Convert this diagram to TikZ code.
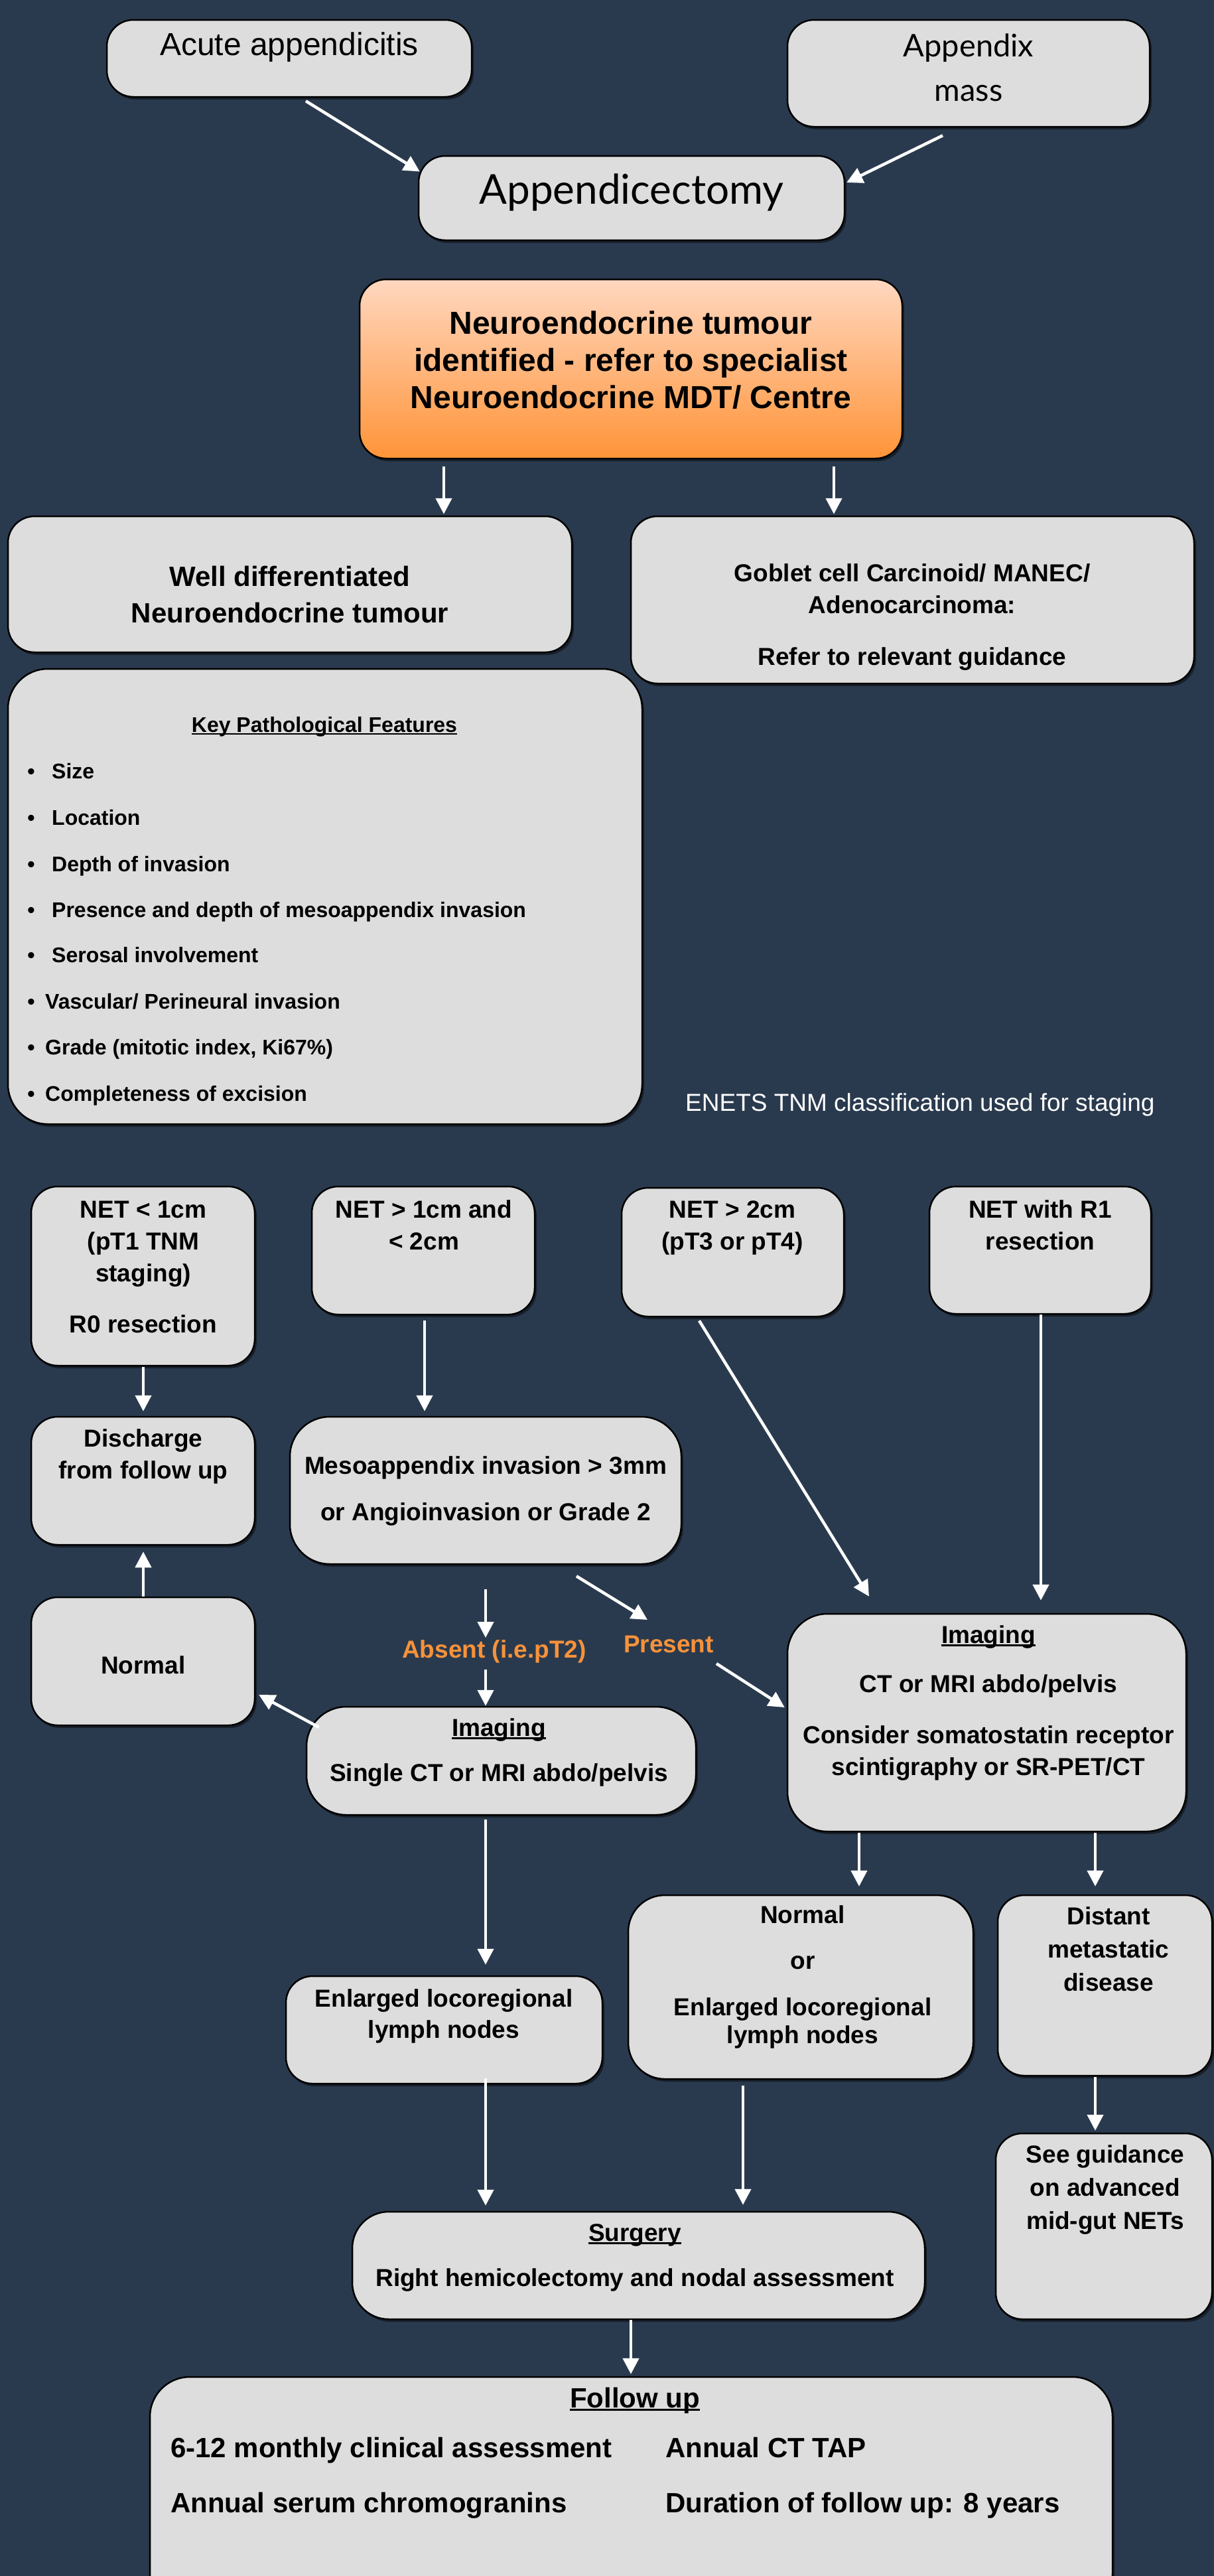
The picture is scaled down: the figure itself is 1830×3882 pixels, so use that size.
\documentclass[tikz,border=0pt]{standalone}
\usepackage{fontspec}
\setmainfont{Liberation Sans}
\newfontfamily\latofont{Lato}
\usetikzlibrary{arrows.meta,shadows}
\definecolor{bgc}{HTML}{2A3A4E}
\definecolor{boxc}{HTML}{DDDDDD}
\definecolor{orTop}{HTML}{FFD7C0}
\definecolor{orBot}{HTML}{FF9438}
\definecolor{lbl}{HTML}{F7923A}
\newsavebox\ulbox
\newcommand\ul[1]{\sbox\ulbox{#1}\rlap{\rule[-0.12em]{\wd\ulbox}{0.07em}}\usebox\ulbox}
\begin{document}
\begin{tikzpicture}[x=1pt,y=-1pt,
 box/.style={draw=black, line width=2.5pt, fill=boxc, rounded corners=#1, inner sep=0pt,
   drop shadow={shadow xshift=3pt, shadow yshift=-4pt, opacity=0.45, fill=black}},
 box/.default=40pt,
 arr/.style={draw=white, line width=4.5pt, -{Triangle[width=24pt,length=24pt]}},
 tx/.style={inner sep=0pt, align=center, text=black, anchor=north},
 tb/.style={inner sep=0pt, text=black, anchor=base},
 tbw/.style={inner sep=0pt, text=black, anchor=base west},
 kf/.style={font=\bfseries\fontsize{32}{40}\selectfont},
 lab/.style={inner sep=0pt, anchor=base, text=lbl, font=\bfseries\fontsize{37}{48}\selectfont}
]
\fill[bgc] (0,0) rectangle (1830,3882);
\useasboundingbox (0,0) rectangle (1830,3882);
\clip (0,0) rectangle (1830,3882);

% ---------- boxes ----------
\node[box, minimum width=550pt, minimum height=116pt] (acute) at (436,88) {};
\node[box, minimum width=546pt, minimum height=161pt] (mass) at (1460,110.5) {};
\node[box, minimum width=642pt, minimum height=127pt] (appy) at (952,298.5) {};
\node[box, draw=black, top color=orTop, bottom color=orBot, minimum width=818pt, minimum height=270pt] (orange) at (951,556) {};
\node[box, minimum width=850pt, minimum height=205pt] (wd) at (437,880.5) {};
\node[box, minimum width=849pt, minimum height=252pt] (goblet) at (1375.5,904) {};
\node[box=60pt, minimum width=956pt, minimum height=686pt] (key) at (490,1351) {};

\node[box, minimum width=337pt, minimum height=270pt] (net1) at (215.5,1923) {};
\node[box, minimum width=336pt, minimum height=193pt] (net2) at (638,1884.5) {};
\node[box, minimum width=335pt, minimum height=194pt] (net3) at (1104.5,1887) {};
\node[box, minimum width=334pt, minimum height=192pt] (net4) at (1568,1884) {};
\node[box, minimum width=337pt, minimum height=193pt] (discharge) at (215.5,2231.5) {};
\node[box=60pt, minimum width=590pt, minimum height=222pt] (meso) at (732,2246) {};
\node[box, minimum width=337pt, minimum height=193pt] (normalL) at (215.5,2503.5) {};
\node[box=60pt, minimum width=587pt, minimum height=163pt] (imgM) at (755.5,2653.5) {};
\node[box=60pt, minimum width=601pt, minimum height=328pt] (imgR) at (1487.5,2596) {};
\node[box=55pt, minimum width=520pt, minimum height=277pt] (normalOr) at (1207,2994.5) {};
\node[box, minimum width=323pt, minimum height=272pt] (distant) at (1665.5,2992) {};
\node[box, minimum width=477pt, minimum height=162pt] (enlargedL) at (669.5,3059) {};
\node[box, minimum width=326pt, minimum height=280pt] (guidance) at (1664,3355) {};
\node[box=55pt, minimum width=863pt, minimum height=162pt] (surgery) at (962.5,3414) {};
\node[box=60pt, minimum width=1451pt, minimum height=356pt] (followup) at (951.5,3760) {};

% ---------- texts ----------
\node[tb, font=\fontsize{48}{56}\selectfont] (acuteT) at (436,83) {Acute appendicitis};
\node[tx, font=\latofont\fontsize{47}{67}\selectfont] (massT) at (1460,38.1) {\strut Appendix\\mass};
\node[tb, font=\latofont\fontsize{62}{70}\selectfont] (appyT) at (952,307) {Appendicectomy};
\node[tx, font=\bfseries\fontsize{48}{56}\selectfont] (orangeT) at (951,463.8)
  {\strut Neuroendocrine tumour\\identified - refer to specialist\\Neuroendocrine MDT/ Centre};
\node[tx, font=\bfseries\fontsize{42}{55}\selectfont] (wdT) at (437,844.5)
  {\strut Well differentiated\\Neuroendocrine tumour};
\node[tx, font=\bfseries\fontsize{37}{48}\selectfont] (gobletT) at (1375,842.4)
  {\strut Goblet cell Carcinoid/ MANEC/\\Adenocarcinoma:\\[30pt]Refer to relevant guidance};

\node[tb, kf] (keyT) at (489,1103) {\ul{Key Pathological Features}};
\node[tb, kf] (b1) at (47,1173) {\textbullet};
\node[tb, kf] (b2) at (47,1243) {\textbullet};
\node[tb, kf] (b3) at (47,1313) {\textbullet};
\node[tb, kf] (b4) at (47,1382) {\textbullet};
\node[tb, kf] (b5) at (47,1450) {\textbullet};
\node[tb, kf] (b6) at (47,1520) {\textbullet};
\node[tb, kf] (b7) at (47,1589) {\textbullet};
\node[tb, kf] (b8) at (47,1659) {\textbullet};
\node[tbw, kf] (k1) at (78,1173) {Size};
\node[tbw, kf] (k2) at (78,1243) {Location};
\node[tbw, kf] (k3) at (78,1313) {Depth of invasion};
\node[tbw, kf] (k4) at (78,1382) {Presence and depth of mesoappendix invasion};
\node[tbw, kf] (k5) at (78,1450) {Serosal involvement};
\node[tbw, kf] (k6) at (68,1520) {Vascular/ Perineural invasion};
\node[tbw, kf] (k7) at (68,1589) {Grade (mitotic index, Ki67\%)};
\node[tbw, kf] (k8) at (68,1659) {Completeness of excision};

\node[tbw, text=white, font=\fontsize{37}{48}\selectfont] (enets) at (1033,1674) {ENETS TNM classification used for staging};

\node[tx, font=\bfseries\fontsize{37}{48}\selectfont] (net1T) at (216,1801.4)
  {\strut NET < 1cm\\(pT1 TNM\\staging)\\[29pt]R0 resection};
\node[tx, font=\bfseries\fontsize{37}{48}\selectfont] (net2T) at (639,1801.4) {\strut NET > 1cm and\\< 2cm};
\node[tx, font=\bfseries\fontsize{37}{48}\selectfont] (net3T) at (1104,1801.4) {\strut NET > 2cm\\(pT3 or pT4)};
\node[tx, font=\bfseries\fontsize{37}{48}\selectfont] (net4T) at (1568,1801.4) {\strut NET with R1\\resection};
\node[tx, font=\bfseries\fontsize{37}{48}\selectfont] (dischargeT) at (216,2146.4) {\strut Discharge\\from follow up};
\node[tx, font=\bfseries\fontsize{37}{70}\selectfont] (mesoT) at (732,2172)
  {\strut Mesoappendix invasion > 3mm\\or Angioinvasion or Grade 2};
\node[tb, font=\bfseries\fontsize{37}{48}\selectfont] (normalLT) at (216,2522) {Normal};
\node[tx, font=\bfseries\fontsize{37}{68}\selectfont] (imgMT) at (752,2568.4)
  {\strut\ul{Imaging}\\Single CT or MRI abdo/pelvis};
\node[tx, font=\bfseries\fontsize{37}{48}\selectfont] (imgRT) at (1490,2442.4)
  {\strut\ul{Imaging}\\[26pt]CT or MRI abdo/pelvis\\[29pt]Consider somatostatin receptor\\scintigraphy or SR-PET/CT};
\node[lab] (absent) at (745,2498) {Absent (i.e.pT2)};
\node[lab] (present) at (1008,2490) {Present};

\node[tx, font=\bfseries\fontsize{37}{42}\selectfont] (normalOrT) at (1210,2868.6)
  {\strut Normal\\[27pt]or\\[28pt]Enlarged locoregional\\lymph nodes};
\node[tx, font=\bfseries\fontsize{37}{50}\selectfont] (distantT) at (1671,2865) {\strut Distant\\metastatic\\disease};
\node[tx, font=\bfseries\fontsize{37}{47}\selectfont] (enlargedLT) at (669,2991.1) {\strut Enlarged locoregional\\lymph nodes};
\node[tx, font=\bfseries\fontsize{37}{50}\selectfont] (guidanceT) at (1666,3224) {\strut See guidance\\on advanced\\mid-gut NETs};
\node[tx, font=\bfseries\fontsize{37}{68}\selectfont] (surgeryT) at (957,3329.4)
  {\strut\ul{Surgery}\\Right hemicolectomy and nodal assessment};

\node[tb, font=\bfseries\fontsize{42}{50}\selectfont] (fuT) at (957,3628) {\ul{Follow up}};
\node[tbw, font=\bfseries\fontsize{42}{50}\selectfont] (fu1) at (257,3703) {6-12 monthly clinical assessment};
\node[tbw, font=\bfseries\fontsize{42}{50}\selectfont] (fu2) at (257,3786) {Annual serum chromogranins};
\node[tbw, font=\bfseries\fontsize{42}{50}\selectfont] (fu3) at (1003,3703) {Annual CT TAP};
\node[tbw, font=\bfseries\fontsize{42}{50}\selectfont] (fu4) at (1003,3786) {Duration of follow up: 8 years};

% ---------- arrows ----------
\draw[arr] ([shift={(25,5)}]acute.south) -- ([shift={(3,-40)}]appy.west);
\draw[arr] ([shift={(-39,12)}]mass.south) -- ([shift={(2,-23.5)}]appy.east);
\draw[arr] ([shift={(-282,11)}]orange.south) -- ([shift={(232,-2)}]wd.north);
\draw[arr] ([shift={(306,11)}]orange.south) -- ([shift={(-118.5,-2)}]goblet.north);
\draw[arr] ([shift={(0.5,1)}]net1.south) -- ([shift={(0.5,-7)}]discharge.north);
\draw[arr] ([shift={(2,8)}]net2.south) -- ([shift={(-92,-7)}]meso.north);
\draw[arr] ([shift={(-50.5,5)}]net3.south) -- ([shift={(-177.5,-25)}]imgR.north);
\draw[arr] ([shift={(1,0)}]net4.south) -- ([shift={(81.5,-19)}]imgR.north);
\draw[arr] ([shift={(0.5,0)}]normalL.north) -- ([shift={(0.5,9)}]discharge.south);
\draw[arr] ([shift={(0,37)}]meso.south) -- ([shift={(-13,-30)}]absent.base);
\draw[arr] ([shift={(-13,18)}]absent.base) -- ([shift={(-23.5,0)}]imgM.north);
\draw[arr] ([shift={(137,17)}]meso.south) -- ([shift={(-32,-49)}]present.base);
\draw[arr] ([shift={(72,17)}]present.base) -- ([shift={(-3,-23)}]imgR.west);
\draw[arr] ([shift={(20,-50.5)}]imgM.west) -- ([shift={(5,50.5)}]normalL.east);
\draw[arr] ([shift={(-23.5,6)}]imgM.south) -- ([shift={(62.5,-16)}]enlargedL.north);
\draw[arr] ([shift={(-192.5,1)}]imgR.south) -- ([shift={(88,-12)}]normalOr.north);
\draw[arr] ([shift={(163.5,1)}]imgR.south) -- ([shift={(-14.5,-12)}]distant.north);
\draw[arr] ([shift={(62.5,-9)}]enlargedL.south) -- ([shift={(-230.5,-8)}]surgery.north);
\draw[arr] ([shift={(-87,9)}]normalOr.south) -- ([shift={(157.5,-9)}]surgery.north);
\draw[arr] ([shift={(-14.5,1)}]distant.south) -- ([shift={(-13,-3)}]guidance.north);
\draw[arr] ([shift={(-11.5,0)}]surgery.south) -- ([shift={(-0.5,-3)}]followup.north);
\end{tikzpicture}
\end{document}
